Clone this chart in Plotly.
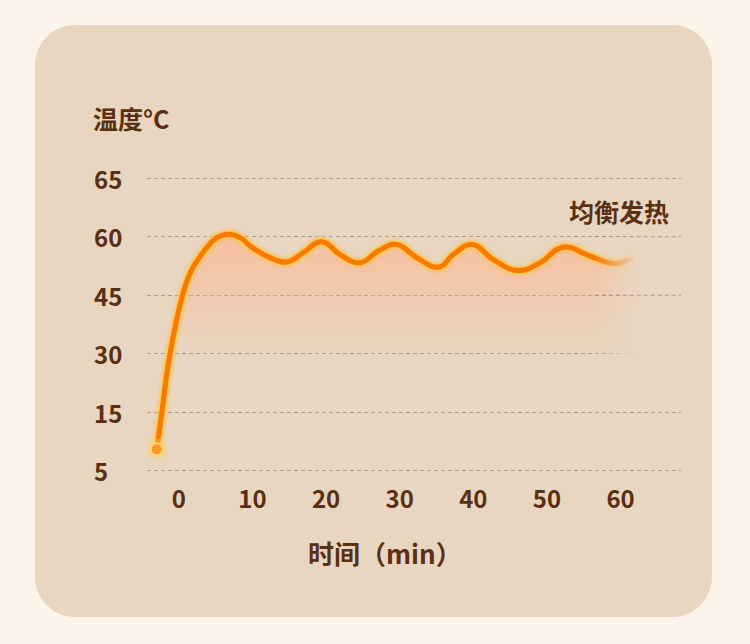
import numpy as np
import plotly.graph_objects as go

# --- data ---
time_min = [-3.00, -2.32, -1.20, 0.48, 1.07, 1.75, 2.57, 3.56, 5.15, 6.95, 8.58, 9.67, 11.94,
            14.65, 16.91, 19.41, 21.89, 24.61, 27.09, 29.59, 32.31, 35.33, 37.28, 39.82,
            42.71, 46.10, 49.05, 52.21, 55.84, 59.37, 61.68]
temp_c = [8.7, 14.8, 29.9, 44.8, 48.4, 51.5, 54.0, 56.6, 59.7, 60.2, 59.4, 57.6, 55.0,
          53.5, 55.9, 58.7, 55.4, 53.3, 56.3, 58.0, 54.6, 52.2, 55.4, 58.0,
          54.1, 51.3, 53.3, 57.3, 55.0, 53.1, 54.7]

x_ticks = [0, 10, 20, 30, 40, 50, 60]
y_tick_temps = [5, 15, 30, 45, 60, 65]
y_tick_pos = [0, 1, 2, 3, 4, 5]   # the reference spaces these evenly

TEXT = "#5b2f12"
PANEL = "rgb(232,214,193)"
PAGE = "#fcf3ea"
GRID = "rgba(150,135,120,0.75)"
FONT = "Noto Sans CJK SC"
SMOOTH = 1.3

# temperatures -> evenly spaced axis levels
y_plot = np.interp(temp_c, y_tick_temps, y_tick_pos)

W, H = 750, 644
L, R, T, B = 147, 69, 150, 164
PW, PH = W - L - R, H - T - B


def px_x(p):
    return (p - L) / PW


def px_y(p):
    return (H - B - p) / PH


fig = go.Figure()

# gradient area under the curve
fig.add_trace(go.Scatter(
    x=time_min, y=y_plot, mode="lines", line=dict(width=0, shape="spline", smoothing=SMOOTH),
    fill="tozeroy",
    fillgradient=dict(type="vertical", start=1.9, stop=4.1,
                      colorscale=[[0, "rgba(255,180,140,0)"], [1, "rgba(255,180,140,0.68)"]]),
    hoverinfo="skip", showlegend=False,
))

# glowing line: halo, light rim, orange core
for w, c in [(13, "rgba(255,190,80,0.25)"), (8, "#ffc552"), (5, "#f77a00")]:
    fig.add_trace(go.Scatter(
        x=time_min, y=y_plot, mode="lines",
        line=dict(width=w, color=c, shape="spline", smoothing=SMOOTH),
        hoverinfo="skip", showlegend=False,
    ))

# start dot
fig.add_trace(go.Scatter(
    x=time_min[:1], y=y_plot[:1], mode="markers",
    marker=dict(size=22, color="rgba(255,205,100,0.35)", line=dict(width=0)),
    hoverinfo="skip", showlegend=False,
))
fig.add_trace(go.Scatter(
    x=time_min[:1], y=y_plot[:1], mode="markers",
    marker=dict(size=12, color="#ff9626", line=dict(width=2, color="#ffd36e")),
    hoverinfo="skip", showlegend=False,
))

# fade the right end of the curve into the panel
fade_x0, fade_x1 = 56.5, 62.3
fig.add_trace(go.Scatter(
    x=[fade_x0, 68.2, 68.2, fade_x0, fade_x0], y=[1.5, 1.5, 4.6, 4.6, 1.5],
    mode="lines", line=dict(width=0), fill="toself",
    fillgradient=dict(type="horizontal", start=fade_x0, stop=fade_x1,
                      colorscale=[[0, "rgba(232,214,193,0)"], [1, "rgba(232,214,193,1)"]]),
    hoverinfo="skip", showlegend=False,
))
# restore grid dashes hidden by the fade
for lv in [3, 4]:
    fig.add_trace(go.Scatter(
        x=[fade_x0, 68.2], y=[lv, lv], mode="lines",
        line=dict(width=1, color=GRID, dash="4px,3px"),
        hoverinfo="skip", showlegend=False,
    ))

# rounded panel behind the plot
x0, x1 = px_x(35), px_x(712)
y0, y1 = px_y(617), px_y(25)
rx, ry = 40 / PW, 40 / PH
k = 0.45
path = (f"M{x0 + rx},{y1} L{x1 - rx},{y1} "
        f"C{x1 - rx * k},{y1} {x1},{y1 - ry * k} {x1},{y1 - ry} "
        f"L{x1},{y0 + ry} C{x1},{y0 + ry * k} {x1 - rx * k},{y0} {x1 - rx},{y0} "
        f"L{x0 + rx},{y0} C{x0 + rx * k},{y0} {x0},{y0 + ry * k} {x0},{y0 + ry} "
        f"L{x0},{y1 - ry} C{x0},{y1 - ry * k} {x0 + rx * k},{y1} {x0 + rx},{y1} Z")
fig.add_shape(type="path", path=path, xref="paper", yref="paper",
              fillcolor=PANEL, line=dict(width=0), layer="below")

# y tick labels are left aligned in the reference, so write them as annotations
for pos, temp in zip(y_tick_pos, y_tick_temps):
    fig.add_annotation(x=px_x(92), y=pos, xref="paper", yref="y", text=str(temp),
                       showarrow=False, xanchor="left", yanchor="middle",
                       font=dict(size=24, color=TEXT, family=FONT, weight=600))

fig.add_annotation(x=px_x(91), y=px_y(118), xref="paper", yref="paper", text="温度°C",
                   showarrow=False, xanchor="left", yanchor="middle",
                   font=dict(size=25, color=TEXT, family=FONT, weight=600))
fig.add_annotation(x=px_x(619), y=px_y(211), xref="paper", yref="paper", text="均衡发热",
                   showarrow=False, xanchor="center", yanchor="middle",
                   font=dict(size=25, color=TEXT, family=FONT, weight=600))
fig.add_annotation(x=px_x(385), y=px_y(552), xref="paper", yref="paper", text="时间（min）",
                   showarrow=False, xanchor="center", yanchor="middle",
                   font=dict(size=26, color=TEXT, family=FONT, weight=600))

fig.update_layout(
    width=W, height=H,
    margin=dict(l=L, r=R, t=T, b=B),
    paper_bgcolor=PAGE, plot_bgcolor="rgba(0,0,0,0)",
    showlegend=False,
    font=dict(family=FONT, color=TEXT),
)
fig.update_xaxes(
    range=[-4.32, 68.2], tickvals=x_ticks, ticktext=[str(v) for v in x_ticks],
    showgrid=False, zeroline=False, showline=False, ticks="", ticklabelstandoff=3,
    tickfont=dict(size=24, color=TEXT, family=FONT, weight=600), fixedrange=True,
)
fig.update_yaxes(
    range=[-0.154, 5.478], tickvals=y_tick_pos, showticklabels=False,
    showgrid=True, gridcolor=GRID, gridwidth=1, griddash="4px,3px",
    zeroline=False, showline=False, ticks="", fixedrange=True,
)

# drop the default 8px page margin so the figure sits at the window's corner
fig.write_html(
    "out.html",
    config={"displayModeBar": False},
    post_script="document.body.style.margin='0';document.body.style.background='%s';" % PAGE,
)
